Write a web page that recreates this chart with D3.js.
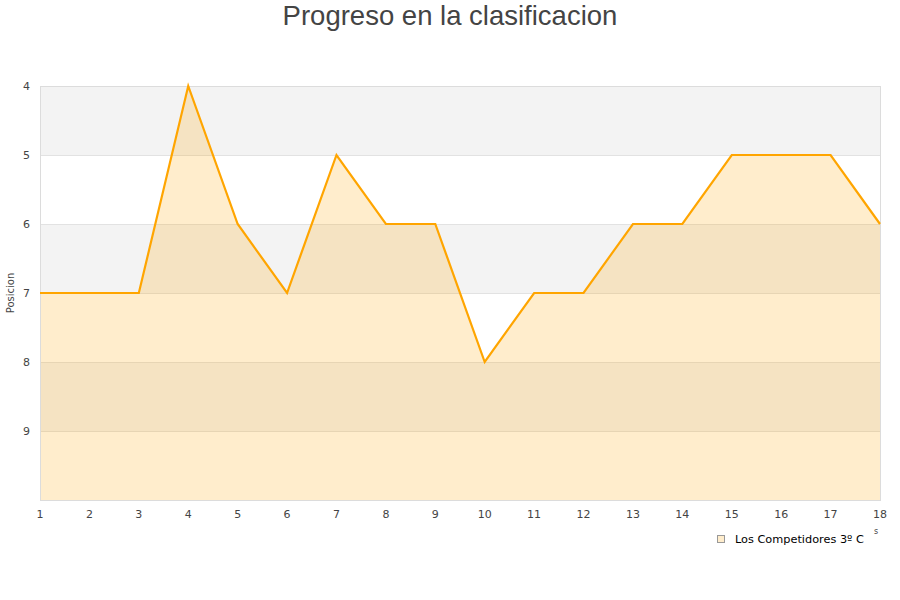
<!DOCTYPE html>
<html>
<head>
<meta charset="utf-8">
<script src="https://cdn.jsdelivr.net/npm/d3@7"></script>
<style>
  body { margin: 0; background: #fff; }
  text { font-family: "DejaVu Sans", sans-serif; }
</style>
</head>
<body>
<svg id="chart" width="900" height="600"></svg>
<script>
// Data
const jornadas = [1, 2, 3, 4, 5, 6, 7, 8, 9, 10, 11, 12, 13, 14, 15, 16, 17, 18];
const posiciones = [7, 7, 7, 4, 6, 7, 5, 6, 6, 8, 7, 7, 6, 6, 5, 5, 5, 6];
const yTicks = [4, 5, 6, 7, 8, 9];
const serieName = "Los Competidores 3º C";
const chartTitle = "Progreso en la clasificacion";

const svg = d3.select("#chart"),
  width = +svg.attr("width"),
  height = +svg.attr("height");

const margin = { top: 86, right: 20, bottom: 100, left: 40 };
const innerW = width - margin.left - margin.right;
const innerH = height - margin.top - margin.bottom;

const x = d3.scaleLinear().domain([1, 18]).range([margin.left, margin.left + innerW]);
// position 4 on top, 10 at the bottom
const y = d3.scaleLinear().domain([4, 10]).range([margin.top, margin.top + innerH]);

// title
svg.append("text")
  .attr("x", width / 2)
  .attr("y", 25)
  .attr("text-anchor", "middle")
  .style("font-family", "'Liberation Sans', Arial, sans-serif")
  .style("font-size", "27.5px")
  .style("fill", "#444")
  .text(chartTitle);

// alternating bands
const bands = d3.range(4, 10);
svg.append("g").selectAll("rect")
  .data(bands)
  .join("rect")
  .attr("x", margin.left)
  .attr("y", (d) => y(d))
  .attr("width", innerW)
  .attr("height", (d) => y(d + 1) - y(d))
  .attr("fill", (d) => (d % 2 === 0 ? "#f3f3f3" : "#ffffff"));

// grid lines
svg.append("g").selectAll("line")
  .data(yTicks.slice(1))
  .join("line")
  .attr("x1", margin.left)
  .attr("x2", margin.left + innerW)
  .attr("y1", (d) => y(d) + 0.5)
  .attr("y2", (d) => y(d) + 0.5)
  .attr("stroke", "#e2e2e2");

const points = jornadas.map((j, i) => [j, posiciones[i]]);

// area under the line
const area = d3.area()
  .x((d) => x(d[0]))
  .y0(y(10))
  .y1((d) => y(d[1]));

svg.append("path")
  .datum(points)
  .attr("d", area)
  .attr("fill", "rgba(255,165,0,0.2)");

// border
svg.append("rect")
  .attr("x", margin.left + 0.5)
  .attr("y", margin.top + 0.5)
  .attr("width", innerW)
  .attr("height", innerH)
  .attr("fill", "none")
  .attr("stroke", "#dcdcdc");

// the line
const line = d3.line()
  .x((d) => x(d[0]))
  .y((d) => y(d[1]));

svg.append("path")
  .datum(points)
  .attr("d", line)
  .attr("fill", "none")
  .attr("stroke", "#ffa500")
  .attr("stroke-width", 2.2);

// y axis labels
svg.append("g").selectAll("text")
  .data(yTicks)
  .join("text")
  .attr("x", 30)
  .attr("y", (d) => y(d) + 4)
  .attr("text-anchor", "end")
  .style("font-size", "11px")
  .style("fill", "#444")
  .text((d) => d);

// x axis labels
svg.append("g").selectAll("text")
  .data(jornadas)
  .join("text")
  .attr("x", (d) => x(d))
  .attr("y", 518)
  .attr("text-anchor", "middle")
  .style("font-size", "11px")
  .style("fill", "#444")
  .text((d) => d);

// y axis title
svg.append("text")
  .attr("transform", "translate(14," + y(7) + ") rotate(-90)")
  .attr("text-anchor", "middle")
  .style("font-size", "10px")
  .style("fill", "#444")
  .text("Posicion");

// leftover of the clipped x axis title
svg.append("text")
  .attr("x", 876)
  .attr("y", 534)
  .attr("text-anchor", "middle")
  .style("font-size", "8px")
  .style("fill", "#444")
  .text("s");

// legend
const legend = svg.append("g").attr("transform", "translate(717,535)");
legend.append("rect")
  .attr("x", 0.5)
  .attr("y", 0.5)
  .attr("width", 7)
  .attr("height", 7)
  .attr("fill", "#ffedcc")
  .attr("stroke", "#999");
legend.append("text")
  .attr("x", 18)
  .attr("y", 8)
  .style("font-size", "11.3px")
  .style("fill", "#000")
  .text(serieName);
</script>
</body>
</html>
